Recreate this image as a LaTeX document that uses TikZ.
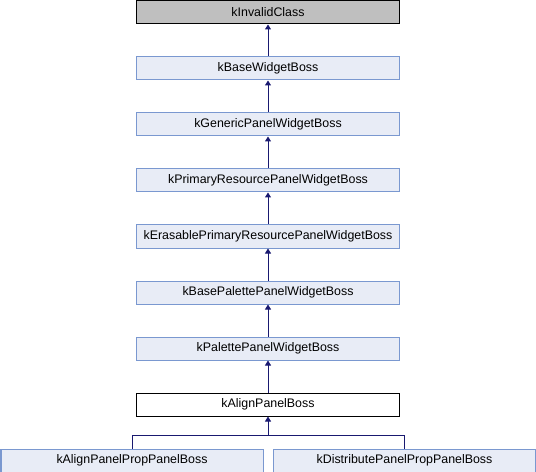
\documentclass[tikz,border=0pt]{standalone}
\usepackage{fontspec}
\setmainfont{Liberation Sans}
\usetikzlibrary{arrows.meta,calc}
\definecolor{boxfill}{RGB}{232,236,246}
\definecolor{boxline}{RGB}{122,152,208}
\definecolor{greyfill}{RGB}{191,191,191}
\definecolor{edgecol}{RGB}{25,25,112}
\tikzset{
  cls/.style={draw=boxline, fill=boxfill, line width=1bp, minimum height=23bp, inner sep=0pt, font=\fontsize{12.4bp}{14bp}\selectfont, anchor=north west},
  mainbox/.style={cls, minimum width=263bp},
  edgeline/.style={draw=edgecol, line width=1bp},
  edge/.style={edgeline, -{Triangle[length=5bp,width=6bp]}},
}
\begin{document}
\begin{tikzpicture}[x=1bp,y=-1bp]
\useasboundingbox (0,0) rectangle (536,472);
\node[mainbox, fill=greyfill, draw=black] (n0) at (136,0.5) {kInvalidClass};
\node[mainbox] (n1) at (136,56.5) {kBaseWidgetBoss};
\node[mainbox] (n2) at (136,112.5) {kGenericPanelWidgetBoss};
\node[mainbox] (n3) at (136,168.5) {kPrimaryResourcePanelWidgetBoss};
\node[mainbox] (n4) at (136,224.5) {kErasablePrimaryResourcePanelWidgetBoss};
\node[mainbox] (n5) at (136,280.5) {kBasePalettePanelWidgetBoss};
\node[mainbox] (n6) at (136,336.5) {kPalettePanelWidgetBoss};
\node[mainbox, fill=white, draw=black] (n7) at (136,392.5) {kAlignPanelBoss};
\node[cls, minimum width=262bp] (n8) at (0.5,448.5) {kAlignPanelPropPanelBoss};
\node[cls, minimum width=262bp] (n9) at (273,448.5) {kDistributePanelPropPanelBoss};
\draw[edge] (n1.north) -- (n0.south);
\draw[edge] (n2.north) -- (n1.south);
\draw[edge] (n3.north) -- (n2.south);
\draw[edge] (n4.north) -- (n3.south);
\draw[edge] (n5.north) -- (n4.south);
\draw[edge] (n6.north) -- (n5.south);
\draw[edge] (n7.north) -- (n6.south);
\coordinate (j) at ($(n7.south)+(0,18.5)$);
\draw[edgeline] (n8.north) -- (n8.north |- j) -- (n9.north |- j) -- (n9.north);
\draw[edge] (j) -- (n7.south);
\end{tikzpicture}
\end{document}
